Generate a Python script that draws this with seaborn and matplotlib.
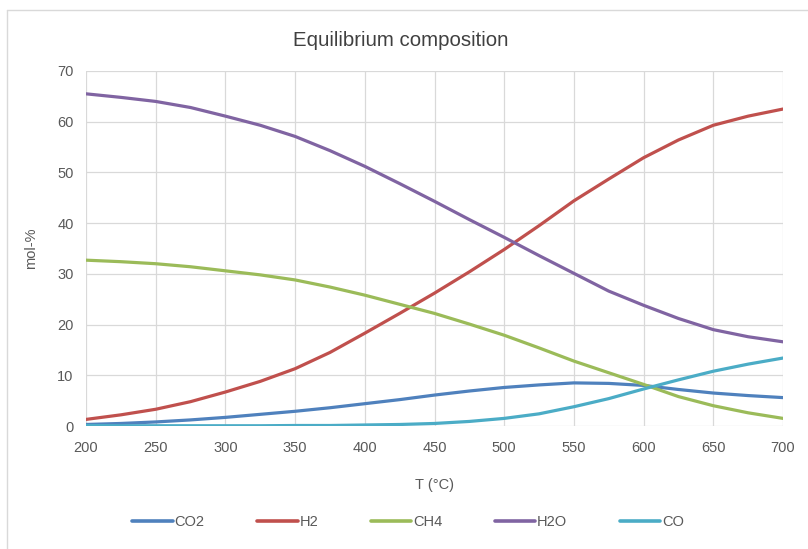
import matplotlib
matplotlib.use("Agg")
import matplotlib.pyplot as plt
import seaborn as sns
import pandas as pd
from matplotlib.lines import Line2D

T = [200, 225, 250, 275, 300, 325, 350, 375, 400, 425, 450, 475, 500, 525, 550, 575, 600, 625, 650, 675, 700]
CO2 = [0.3, 0.5, 0.8, 1.2, 1.7, 2.3, 2.9, 3.6, 4.4, 5.2, 6.1, 6.9, 7.6, 8.1, 8.5, 8.4, 8.0, 7.2, 6.5, 6.0, 5.6]
H2 = [1.3, 2.2, 3.3, 4.8, 6.7, 8.8, 11.3, 14.5, 18.3, 22.2, 26.2, 30.4, 34.8, 39.5, 44.4, 48.7, 52.9, 56.4, 59.3, 61.1, 62.5]
CH4 = [32.7, 32.4, 32.0, 31.4, 30.6, 29.8, 28.8, 27.4, 25.8, 24.0, 22.2, 20.1, 17.9, 15.4, 12.8, 10.5, 8.2, 5.8, 4.0, 2.6, 1.5]
H2O = [65.5, 64.8, 64.0, 62.8, 61.1, 59.3, 57.1, 54.3, 51.2, 47.8, 44.3, 40.7, 37.2, 33.6, 30.1, 26.6, 23.8, 21.2, 19.0, 17.6, 16.6]
CO = [0.1, 0.05, 0.05, 0.05, 0.05, 0.05, 0.1, 0.1, 0.2, 0.3, 0.5, 0.9, 1.5, 2.4, 3.8, 5.4, 7.3, 9.1, 10.8, 12.2, 13.4]

species = ["CO2", "H2", "CH4", "H2O", "CO"]
colors = ["#4F81BD", "#C0504D", "#9BBB59", "#8064A2", "#4BACC6"]
series = {"CO2": CO2, "H2": H2, "CH4": CH4, "H2O": H2O, "CO": CO}

rows = []
for s in species:
    for t, v in zip(T, series[s]):
        rows.append({"T": t, "value": v, "species": s})
df = pd.DataFrame(rows)

sns.set_theme(style="white")
plt.rcParams["font.family"] = ["Liberation Sans", "DejaVu Sans"]

W, H = 808, 549
fig = plt.figure(figsize=(W / 100, H / 100), dpi=100)
ax = fig.add_axes([86 / W, 1 - 426 / H, (783 - 86) / W, (426 - 71) / H])

LW = 2.3
sns.lineplot(data=df, x="T", y="value", hue="species", hue_order=species,
             palette=colors, linewidth=LW, ax=ax, legend=False)

ax.set_xlim(200, 700)
ax.set_ylim(0, 70)
ax.set_xticks(range(200, 701, 50))
ax.set_yticks(range(0, 71, 10))
ax.grid(True, color="#D9D9D9", linewidth=0.9)
ax.set_axisbelow(True)
for sp in ax.spines.values():
    sp.set_visible(False)
ax.tick_params(axis="both", colors="#595959", labelsize=10.5, length=0)
ax.tick_params(axis="x", pad=11)
ax.tick_params(axis="y", pad=9)
ax.set_xlabel("T (°C)", color="#595959", fontsize=10.5, labelpad=16)
ax.set_ylabel("mol-%", color="#595959", fontsize=10.5, labelpad=14)

fig.text(401 / W, 1 - 40 / H, "Equilibrium composition", ha="center", va="center",
         fontsize=14.7, color="#404040")

handles = [Line2D([0], [0], color=c, linewidth=LW + 0.3) for c in colors]
fig.legend(handles, species, loc="center", bbox_to_anchor=(408 / W, 1 - 522 / H),
           ncol=5, frameon=False, fontsize=10.5, handlelength=2.8, columnspacing=3.6,
           handletextpad=0.1, labelcolor="#595959")

# chart border (light gray)
fig.add_artist(Line2D([7 / W, 7 / W], [0, 1 - 10 / H], color="#D9D9D9", linewidth=1.0,
                      transform=fig.transFigure))
fig.add_artist(Line2D([7 / W, 1], [1 - 10 / H, 1 - 10 / H], color="#D9D9D9", linewidth=1.0,
                      transform=fig.transFigure))

fig.savefig("out.png", dpi=100)
